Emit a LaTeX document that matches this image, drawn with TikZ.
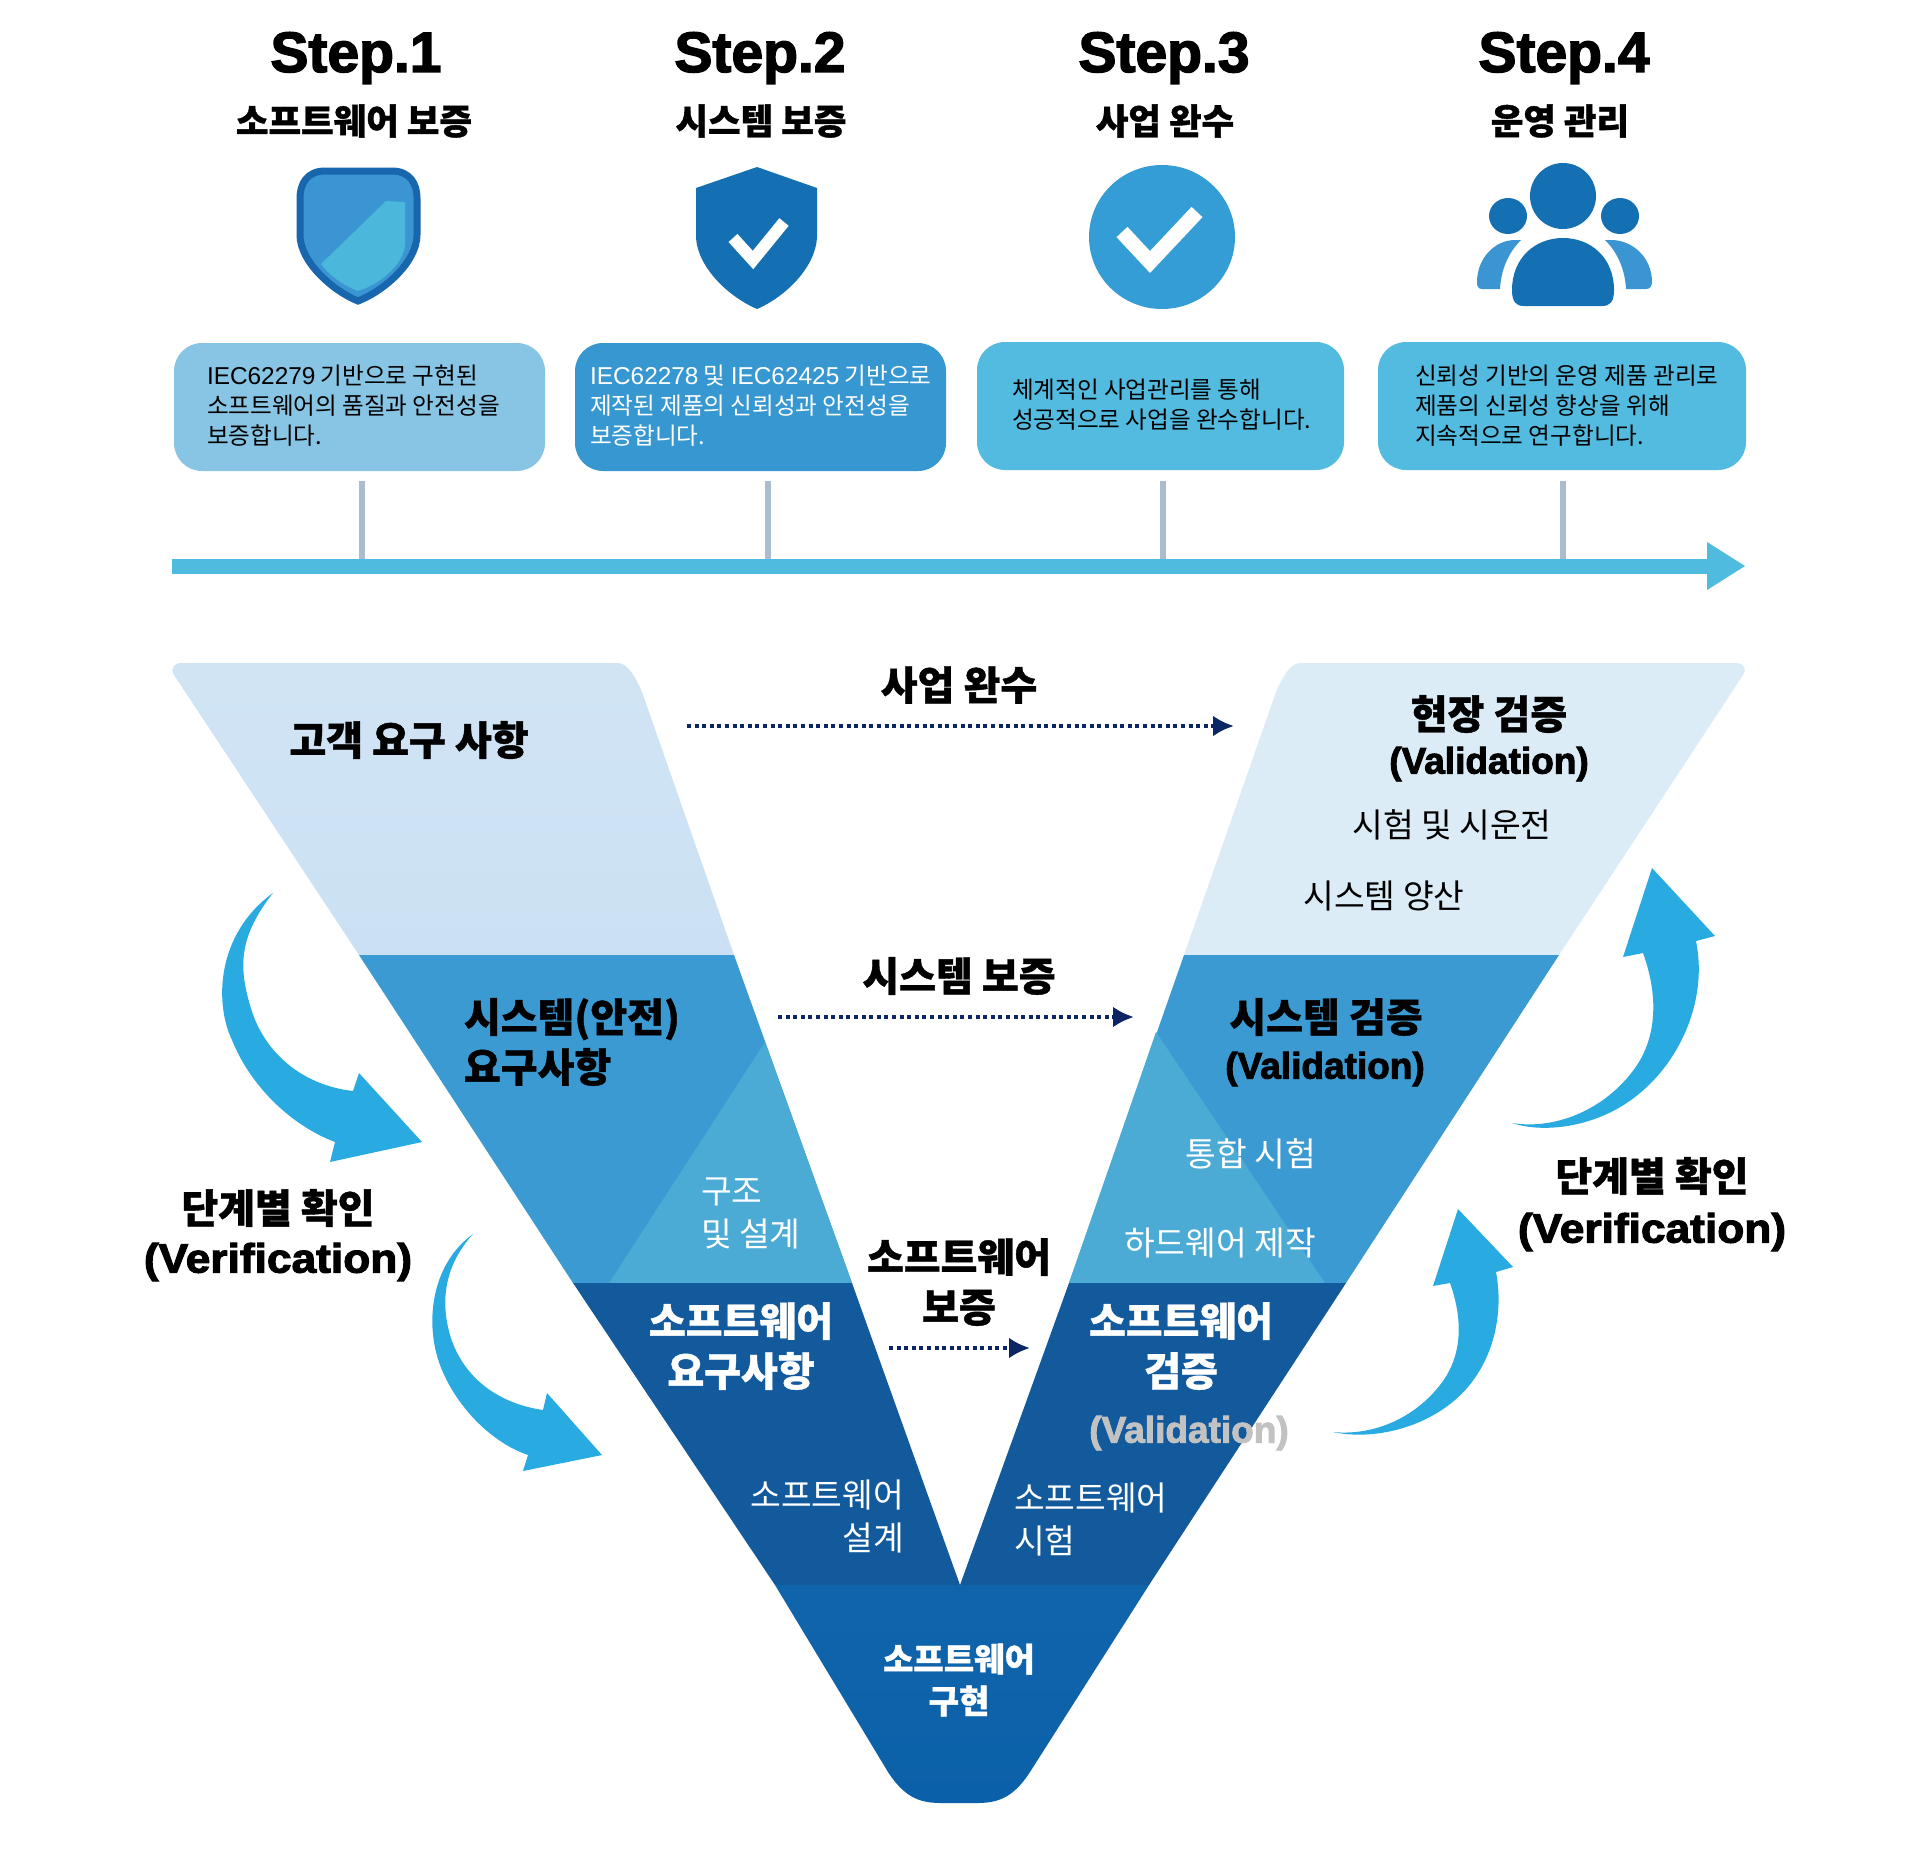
\documentclass[tikz,border=0pt]{standalone}
\usepackage{fontspec}
\setmainfont{Noto Sans CJK KR}[BoldFeatures={FakeBold=1}]
\newfontfamily\latb{Liberation Sans}[BoldFeatures={FakeBold=2.5}]
\usetikzlibrary{arrows.meta}
\definecolor{navy}{HTML}{0B2565}
\definecolor{swoosh}{HTML}{29ABE2}
\definecolor{bandtopL}{HTML}{CBE1F3}
\definecolor{bandtopR}{HTML}{DBECF7}
\definecolor{bandmid}{HTML}{3A9AD1}
\definecolor{bandlite}{HTML}{4BABD4}
\definecolor{banddark}{HTML}{125A9C}
\definecolor{bandlow}{HTML}{0B61A9}
\definecolor{boxA}{HTML}{88C4E3}
\definecolor{boxB}{HTML}{3797D0}
\definecolor{boxC}{HTML}{53BBE0}
\definecolor{iconDark}{HTML}{1570B3}
\definecolor{iconEdge}{HTML}{1766AE}
\definecolor{iconMid}{HTML}{3A95D2}
\definecolor{iconLite}{HTML}{4BB7DB}
\definecolor{stem}{HTML}{AABDCF}
\definecolor{timeline}{HTML}{4FBBDF}
\definecolor{grayval}{HTML}{C2C2C2}
\newcommand\iec[1]{{\fontsize{12.2}{15}\selectfont\fontspec{Liberation Sans}#1}}
\tikzset{
  txt/.style={inner sep=0pt,outer sep=0pt,align=center},
  stephead/.style={txt,font=\fontsize{28.5}{30}\selectfont\bfseries\latb},
  stepsub/.style={txt,font=\fontsize{17.7}{20}\selectfont\bfseries},
  infobox/.style={draw=none,rounded corners=14pt,minimum height=64pt,inner sep=0pt},
  infotext/.style={txt,align=left,anchor=west,font=\fontsize{11.8}{15}\selectfont},
  bighead/.style={txt,font=\fontsize{20}{25}\selectfont\bfseries},
  validlabel/.style={txt,font=\fontsize{18.5}{25}\selectfont\bfseries\latb},
  verifylabel/.style={txt,font=\fontsize{20.5}{25}\selectfont\bfseries\latb},
  smalltext/.style={txt,font=\fontsize{16.7}{21.5}\selectfont},
  dotarrow/.style={navy,line width=2.2pt,dash pattern=on 2pt off 1.8pt,-{Latex[length=10.5pt,width=10.5pt]}},
  stemline/.style={stem,line width=2.8pt},
  checkmark/.style={draw=white,line width=#1,line cap=butt,line join=miter},
}
\begin{document}
\begin{tikzpicture}[x=0.5pt,y=-0.5pt]
\useasboundingbox (0,0) rectangle (1920,1852);
% headings
\node[stephead] (s1) at (356,58) {Step.1};
\node[stephead] (s2) at (760,58) {Step.2};
\node[stephead] (s3) at (1164,58) {Step.3};
\node[stephead] (s4) at (1564,58) {Step.4};
\node[stepsub] (t1) at (354,121) {소프트웨어 보증};
\node[stepsub] (t2) at (761,121) {시스템 보증};
\node[stepsub] (t3) at (1165,121) {사업 완수};
\node[stepsub] (t4) at (1560,121) {운영 관리};
% icon 1
\path[fill=iconMid,draw=iconEdge,line width=3.5pt]
  (325,171) -- (392,171) .. controls (410,171) and (417,184) .. (417,198) -- (417,235)
  .. controls (417,262) and (384,291) .. (358,301) .. controls (333,291) and (300,262) .. (300,235)
  -- (300,198) .. controls (300,184) and (307,171) .. (325,171) -- cycle;
\path[fill=iconLite] (386,201) -- (405,202) -- (405,245) .. controls (403,266) and (378,285) .. (358,291)
  .. controls (342,285) and (328,274) .. (321,264) -- cycle;
% icon 2
\path[fill=iconDark] (757,167) -- (817,188) -- (817,238) .. controls (815,268) and (785,297) .. (757,309)
  .. controls (729,297) and (698,268) .. (696,238) -- (696,188) -- cycle;
\draw[checkmark=6pt] (733,238) -- (753,260) -- (784,222);
% icon 3
\path[fill=iconMid!92!cyan] (1162,237) ellipse [x radius=73,y radius=72];
\draw[checkmark=7.5pt] (1122,232) -- (1150,262) -- (1197,212);
% icon 4
\path[fill=iconDark] (1563,196) ellipse [x radius=33,y radius=33];
\path[fill=iconDark] (1508,216) ellipse [x radius=19,y radius=18];
\path[fill=iconDark] (1620,216) ellipse [x radius=19,y radius=18];
\path[fill=iconDark] (1512,290) .. controls (1512,258) and (1535,238) .. (1563,238)
  .. controls (1591,238) and (1614,258) .. (1614,290) .. controls (1614,302) and (1610,306) .. (1602,306)
  -- (1524,306) .. controls (1516,306) and (1512,302) .. (1512,290) -- cycle;
\path[fill=iconMid] (1521,240) .. controls (1508,253) and (1501,270) .. (1500,289) -- (1482,289)
  .. controls (1478,289) and (1477,286) .. (1477,282) .. controls (1477,258) and (1495,240) .. (1515,240) -- cycle;
\path[fill=iconMid] (1605,240) .. controls (1618,253) and (1625,270) .. (1626,289) -- (1646,289)
  .. controls (1650,289) and (1652,286) .. (1652,282) .. controls (1652,258) and (1633,240) .. (1611,240) -- cycle;
% info boxes
\node[infobox,fill=boxA,minimum width=185.5pt] (b1) at (359.5,407) {};
\node[infobox,fill=boxB,minimum width=185.5pt] (b2) at (760.5,407) {};
\node[infobox,fill=boxC,minimum width=183.5pt] (b3) at (1160.5,406) {};
\node[infobox,fill=boxC,minimum width=184pt] (b4) at (1562,406) {};
\node[infotext] (bt1) at (207,406) {\iec{IEC62279} 기반으로 구현된\\소프트웨어의 품질과 안전성을\\보증합니다.};
\node[infotext,text=white] (bt2) at (590,406) {\iec{IEC62278} 및 \iec{IEC62425} 기반으로\\제작된 제품의 신뢰성과 안전성을\\보증합니다.};
\node[infotext] (bt3) at (1012,405) {체계적인 사업관리를 통해\\성공적으로 사업을 완수합니다.};
\node[infotext] (bt4) at (1415,406) {신뢰성 기반의 운영 제품 관리로\\제품의 신뢰성 향상을 위해\\지속적으로 연구합니다.};
% timeline
\coordinate (tlstart) at (172,566);
\coordinate (tlend) at (1707,566);
\coordinate (st1a) at (362,481); \coordinate (st1b) at (362,560);
\coordinate (st2a) at (768,481); \coordinate (st2b) at (768,560);
\coordinate (st3a) at (1163,481); \coordinate (st3b) at (1163,560);
\coordinate (st4a) at (1563,481); \coordinate (st4b) at (1563,560);
\draw[stemline] (st1a) -- (st1b);
\draw[stemline] (st2a) -- (st2b);
\draw[stemline] (st3a) -- (st3b);
\draw[stemline] (st4a) -- (st4b);
\draw[timeline,line width=7.5pt] (tlstart) -- (tlend);
\path[fill=timeline] (1707,542) -- (1745,566) -- (1707,590) -- cycle;
% V bands
\path[top color=bandtopL!90!white,bottom color=bandtopL] (182,663) -- (618,663) .. controls (628,663) and (636,678) .. (642,692)
  -- (734,955) -- (359,955) -- (174,675) .. controls (170,668) and (174,663) .. (182,663) -- cycle;
\path[fill=bandtopR] (1300,663) -- (1735,663) .. controls (1745,663) and (1747,670) .. (1743,675)
  -- (1559,955) -- (1184,955) -- (1276,692) .. controls (1282,678) and (1290,663) .. (1300,663) -- cycle;
\path[fill=bandmid] (359,955) -- (734,955) -- (852,1283) -- (573,1283) -- cycle;
\path[fill=bandmid] (1184,955) -- (1559,955) -- (1346,1283) -- (1069,1283) -- cycle;
\path[fill=bandlite] (765,1042) -- (852,1283) -- (609,1283) -- cycle;
\path[fill=bandlite] (1156,1032) -- (1325,1283) -- (1069,1283) -- cycle;
\path[fill=banddark] (573,1283) -- (852,1283) -- (960,1585) -- (1069,1283) -- (1346,1283) -- (1149,1585) -- (775,1585) -- cycle;
\path[top color=bandlow!98!white,bottom color=bandlow] (775,1585) -- (1149,1585) -- (1030,1772)
  .. controls (1012,1800) and (995,1803) .. (976,1803) -- (942,1803)
  .. controls (923,1803) and (906,1800) .. (888,1772) -- cycle;
% V text
\node[bighead] (n1) at (409,740) {고객 요구 사항};
\node[bighead] (m1) at (959,685) {사업 완수};
\node[bighead] (r1) at (1489,714) {현장 검증};
\node[validlabel] (r1v) at (1489,764) {(Validation)};
\node[smalltext] (r1a) at (1452,825) {시험 및 시운전};
\node[smalltext] (r1b) at (1384,896) {시스템 양산};
\node[bighead] (m2) at (959,976) {시스템 보증};
\node[bighead,align=left,anchor=west] (n2) at (464,1042) {시스템(안전)\\요구사항};
\node[bighead] (r2) at (1326,1017) {시스템 검증};
\node[validlabel] (r2v) at (1325,1069) {(Validation)};
\node[smalltext,text=white] (r2a) at (1251,1154) {통합 시험};
\node[smalltext,text=white] (r2b) at (1220,1243) {하드웨어 제작};
\node[smalltext,text=white,align=left,anchor=west] (n2a) at (701,1213) {구조\\및 설계};
\node[bighead] (m3) at (959,1282) {소프트웨어\\보증};
\node[bighead,text=white] (n3) at (741,1346) {소프트웨어\\요구사항};
\node[bighead,text=white] (r3) at (1181,1346) {소프트웨어\\검증};
\node[validlabel,text=grayval] (r3v) at (1189,1433) {(Validation)};
\node[smalltext,text=white,align=right,anchor=east] (n3a) at (904,1516) {소프트웨어\\설계};
\node[smalltext,text=white,align=left,anchor=west] (r3a) at (1014,1519) {소프트웨어\\시험};
\node[txt,text=white,font=\fontsize{16.5}{21}\selectfont\bfseries] (c1) at (959,1680) {소프트웨어\\구현};
% dotted arrows
\coordinate (d1a) at (687,726); \coordinate (d1b) at (1234,726);
\coordinate (d2a) at (778,1017); \coordinate (d2b) at (1134,1017);
\coordinate (d3a) at (889,1348); \coordinate (d3b) at (1030,1348);
\draw[dotarrow] (d1a) -- (d1b);
\draw[dotarrow] (d2a) -- (d2b);
\draw[dotarrow] (d3a) -- (d3b);
% swooshes left
\path[fill=swoosh] (273,893) .. controls (215,935) and (215,1005) .. (232,1040)
  .. controls (250,1085) and (290,1125) .. (335,1142) -- (330,1162) -- (422,1142) -- (359,1073) -- (353,1091)
  .. controls (300,1085) and (262,1050) .. (250,1005) .. controls (238,965) and (240,935) .. (273,893) -- cycle;
\path[fill=swoosh] (473,1234) .. controls (430,1265) and (425,1325) .. (440,1365)
  .. controls (455,1405) and (490,1442) .. (528,1455) -- (523,1471) -- (602,1455) -- (547,1393) -- (543,1410)
  .. controls (495,1403) and (462,1375) .. (450,1335) .. controls (440,1300) and (445,1265) .. (473,1234) -- cycle;
% swooshes right
\path[fill=swoosh] (1512,1123) .. controls (1545,1134) and (1600,1127) .. (1640,1093)
  .. controls (1680,1060) and (1708,1000) .. (1696,941) -- (1715,936) -- (1652,868) -- (1623,957) -- (1643,953)
  .. controls (1660,1000) and (1655,1040) .. (1635,1068) .. controls (1605,1110) and (1555,1130) .. (1512,1123) -- cycle;
\path[fill=swoosh] (1333,1432) .. controls (1370,1440) and (1420,1430) .. (1455,1400)
  .. controls (1490,1370) and (1505,1320) .. (1496,1272) -- (1513,1267) -- (1458,1209) -- (1433,1286) -- (1450,1283)
  .. controls (1465,1325) and (1460,1360) .. (1440,1385) .. controls (1415,1417) and (1375,1436) .. (1333,1432) -- cycle;
% verification labels
\node[bighead] (vl1) at (278,1208) {단계별 확인};
\node[verifylabel] (vl2) at (278,1262) {\scalebox{1.08}[1]{(Verification)}};
\node[bighead] (vr1) at (1652,1176) {단계별 확인};
\node[verifylabel] (vr2) at (1652,1232) {\scalebox{1.08}[1]{(Verification)}};
\end{tikzpicture}
\end{document}
